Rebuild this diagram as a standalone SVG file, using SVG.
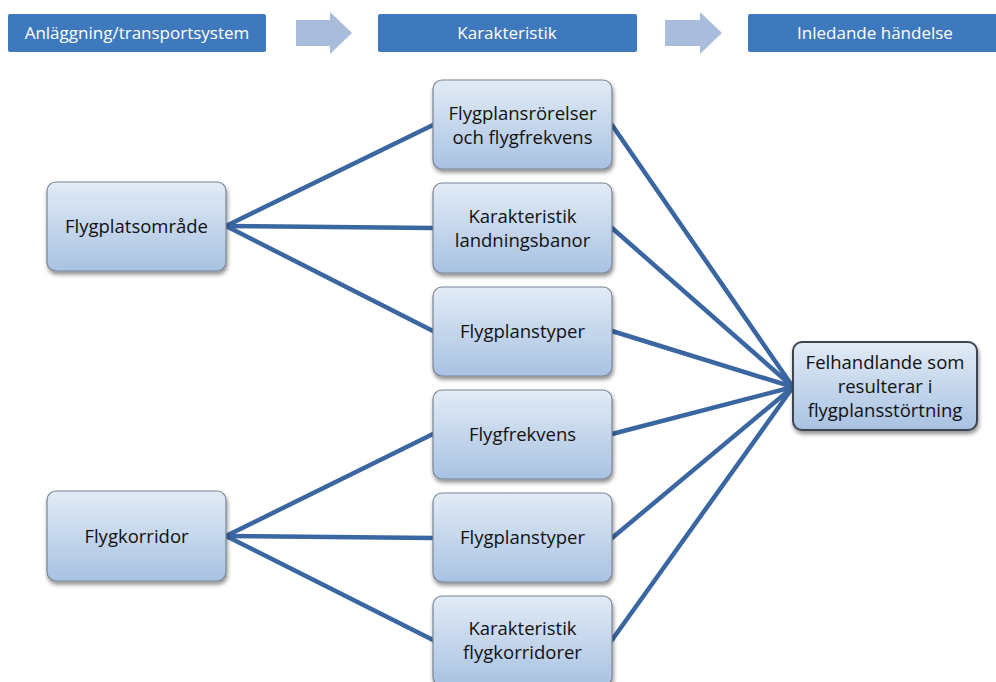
<svg xmlns="http://www.w3.org/2000/svg" width="996" height="682" viewBox="0 0 996 682">
<defs>
<linearGradient id="g" x1="0" y1="0" x2="0" y2="1">
<stop offset="0" stop-color="#e2ebf6"/>
<stop offset="1" stop-color="#a8c2e2"/>
</linearGradient>
<filter id="sh" x="-10%" y="-10%" width="125%" height="130%">
<feGaussianBlur in="SourceAlpha" stdDeviation="2"/>
<feOffset dx="1" dy="3" result="o"/>
<feComponentTransfer><feFuncA type="linear" slope="0.45"/></feComponentTransfer>
<feMerge><feMergeNode/><feMergeNode in="SourceGraphic"/></feMerge>
</filter>
</defs>
<style>
.hdr{fill:#3f79bd}
.ht{fill:#ffffff;font-family:"Open Sans","Liberation Sans",sans-serif;font-size:17px;text-anchor:middle}
.arr{fill:#a9bcdc}
.box{fill:url(#g);stroke:#7a8594;stroke-width:1.2;filter:url(#sh)}
.box2{fill:url(#g);stroke:#3d4450;stroke-width:2;filter:url(#sh)}
.nt{fill:#111111;font-family:"Open Sans","Liberation Sans",sans-serif;font-size:18.5px;text-anchor:middle}
.ln{stroke:#3a66a1;stroke-width:4.5;fill:none;stroke-linecap:round}
</style>
<rect width="996" height="682" fill="#ffffff"/>
<g id="header">
<g id="h1"><rect class="hdr" x="8" y="14" width="258" height="38" rx="2"/><text class="ht" x="137" y="39">Anläggning/transportsystem</text></g>
<g id="a1"><polygon class="arr" points="296,20 330,20 330,12 352,33 330,54 330,46 296,46"/></g>
<g id="h2"><rect class="hdr" x="378" y="14" width="259" height="38" rx="2"/><text class="ht" x="507" y="39">Karakteristik</text></g>
<g id="a2"><polygon class="arr" points="665,20 700,20 700,12 722,33 700,54 700,46 665,46"/></g>
<g id="h3"><rect class="hdr" x="748" y="14" width="252" height="38" rx="2"/><text class="ht" x="875" y="39">Inledande händelse</text></g>
</g>
<g id="connectors">
<line class="ln" x1="226" y1="226" x2="433" y2="125"/>
<line class="ln" x1="226" y1="226" x2="433" y2="228"/>
<line class="ln" x1="226" y1="226" x2="433" y2="331"/>
<line class="ln" x1="226" y1="536" x2="433" y2="434"/>
<line class="ln" x1="226" y1="536" x2="433" y2="538"/>
<line class="ln" x1="226" y1="536" x2="433" y2="640"/>
<line class="ln" x1="612" y1="125" x2="793" y2="387"/>
<line class="ln" x1="612" y1="228" x2="793" y2="387"/>
<line class="ln" x1="612" y1="331" x2="793" y2="387"/>
<line class="ln" x1="612" y1="434" x2="793" y2="387"/>
<line class="ln" x1="612" y1="538" x2="793" y2="387"/>
<line class="ln" x1="612" y1="640" x2="793" y2="387"/>
</g>
<g id="n-flygplats"><rect class="box" x="47" y="182" width="179" height="89" rx="9"/><text class="nt" x="136.5" y="233">Flygplatsområde</text></g>
<g id="n-flygkorridor"><rect class="box" x="47" y="491" width="179" height="90" rx="9"/><text class="nt" x="136.5" y="543">Flygkorridor</text></g>
<g id="n-m1"><rect class="box" x="433" y="80" width="179" height="89" rx="9"/><text class="nt" x="522.5" y="120">Flygplansrörelser</text><text class="nt" x="522.5" y="144">och flygfrekvens</text></g>
<g id="n-m2"><rect class="box" x="433" y="183" width="179" height="90" rx="9"/><text class="nt" x="522.5" y="223">Karakteristik</text><text class="nt" x="522.5" y="247">landningsbanor</text></g>
<g id="n-m3"><rect class="box" x="433" y="287" width="179" height="89" rx="9"/><text class="nt" x="522.5" y="338">Flygplanstyper</text></g>
<g id="n-m4"><rect class="box" x="433" y="390" width="179" height="89" rx="9"/><text class="nt" x="522.5" y="441">Flygfrekvens</text></g>
<g id="n-m5"><rect class="box" x="433" y="493" width="179" height="89" rx="9"/><text class="nt" x="522.5" y="544">Flygplanstyper</text></g>
<g id="n-m6"><rect class="box" x="433" y="596" width="179" height="90" rx="9"/><text class="nt" x="522.5" y="635">Karakteristik</text><text class="nt" x="522.5" y="659">flygkorridorer</text></g>
<g id="n-result"><rect class="box2" x="793" y="342" width="184" height="88" rx="9"/><text class="nt" x="885" y="369">Felhandlande som</text><text class="nt" x="885" y="393">resulterar i</text><text class="nt" x="885" y="417">flygplansstörtning</text></g>
</svg>
